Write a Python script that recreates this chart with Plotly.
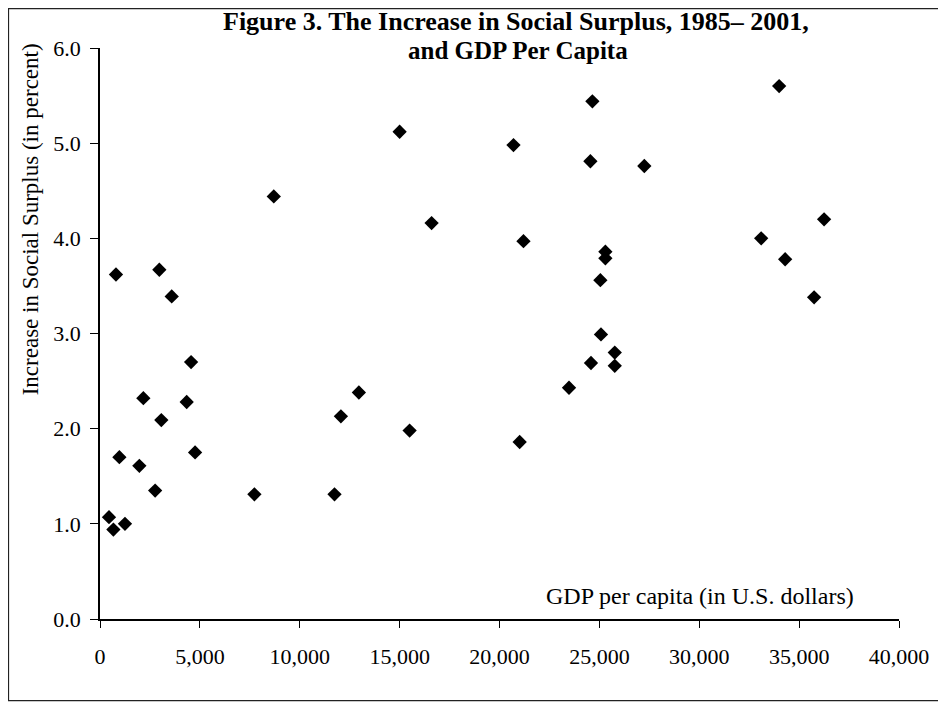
import plotly.graph_objects as go

# GDP per capita (US$) and increase in social surplus (%)
gdp = [800, 2970, 3590, 8700, 15000, 16600,
       24650, 20700, 24550, 27250, 21200, 25300, 25300, 25050,
       34000, 36250, 33100, 34300, 35750,
       4560, 2170, 4340, 3070, 4760, 970, 1970, 2760, 7730, 450, 670, 1250,
       12960, 12060, 15500, 11740,
       25080, 25770, 25770, 24580, 23480, 21010]
surplus = [3.62, 3.67, 3.39, 4.44, 5.12, 4.16,
           5.44, 4.98, 4.81, 4.76, 3.97, 3.86, 3.79, 3.56,
           5.60, 4.20, 4.00, 3.78, 3.38,
           2.70, 2.32, 2.28, 2.09, 1.75, 1.70, 1.61, 1.35, 1.31, 1.07, 0.94, 1.00,
           2.38, 2.13, 1.98, 1.31,
           2.99, 2.80, 2.66, 2.69, 2.43, 1.86]

x_ticks = [0, 5000, 10000, 15000, 20000, 25000, 30000, 35000, 40000]
x_tick_labels = ["0", "5,000", "10,000", "15,000", "20,000", "25,000", "30,000", "35,000", "40,000"]
y_ticks = [0, 1, 2, 3, 4, 5, 6]
y_tick_labels = ["0.0", "1.0", "2.0", "3.0", "4.0", "5.0", "6.0"]

title_line1 = "Figure 3. The Increase in Social Surplus, 1985\u2013 2001,"
title_line2 = "and GDP Per Capita"
y_title = "Increase in Social Surplus (in percent)"
x_title = "GDP per capita (in U.S. dollars)"

SERIF = "Liberation Serif, Times New Roman, serif"

fig = go.Figure()
fig.add_trace(go.Scatter(
    x=gdp, y=surplus, mode="markers",
    marker=dict(symbol="diamond", size=11, color="black", line=dict(width=0)),
    showlegend=False, hoverinfo="x+y",
))

fig.update_layout(
    width=946, height=702,
    margin=dict(l=92, r=55, t=40, b=91),
    paper_bgcolor="white", plot_bgcolor="white",
    font=dict(family=SERIF, color="black", size=22),
    xaxis=dict(range=[0, 40000], tickvals=x_ticks, ticktext=x_tick_labels,
               showgrid=False, zeroline=False, showline=True, linecolor="black",
               linewidth=1.5, ticks="outside", ticklen=7, tickcolor="black",
               tickwidth=1, tickfont=dict(family=SERIF, size=22),
               ticklabelstandoff=10),
    yaxis=dict(range=[0, 6], tickvals=y_ticks, ticktext=y_tick_labels,
               showgrid=False, zeroline=False, showline=True, linecolor="black",
               linewidth=1.5, ticks="outside", ticklen=8, tickcolor="black",
               tickwidth=1, tickfont=dict(family=SERIF, size=22),
               ticklabelstandoff=5),
    annotations=[
        dict(text="<b>" + title_line1 + "</b>", x=0.5207, y=1.046, xref="paper", yref="paper",
             xanchor="center", yanchor="middle", showarrow=False,
             font=dict(family=SERIF, size=26)),
        dict(text="<b>" + title_line2 + "</b>", x=0.523, y=0.996, xref="paper", yref="paper",
             xanchor="center", yanchor="middle", showarrow=False,
             font=dict(family=SERIF, size=25)),
        dict(text=y_title, x=-0.0876, y=0.70, xref="paper", yref="paper",
             xanchor="center", yanchor="middle", textangle=-90, showarrow=False,
             font=dict(family=SERIF, size=23)),
        dict(text=x_title, x=0.751, y=0.04, xref="paper", yref="paper",
             xanchor="center", yanchor="middle", showarrow=False,
             font=dict(family=SERIF, size=24)),
    ],
    shapes=[
        dict(type="rect", xref="paper", yref="paper",
             x0=-0.1145, x1=1.0676, y0=-0.1428, y1=1.0690,
             line=dict(color="#222", width=1.2)),
    ],
)

fig.write_html("out.html")
